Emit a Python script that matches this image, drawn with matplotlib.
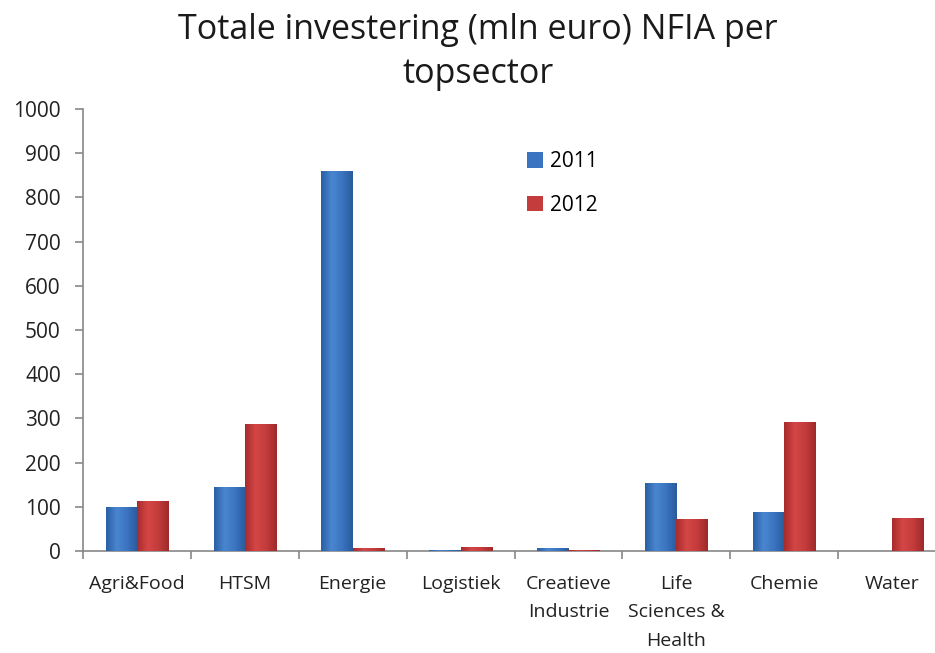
import matplotlib
matplotlib.use("Agg")
import matplotlib.pyplot as plt
import numpy as np
from matplotlib.colors import LinearSegmentedColormap

categories = ["Agri&Food", "HTSM", "Energie", "Logistiek", "Creatieve\nIndustrie",
              "Life\nSciences &\nHealth", "Chemie", "Water"]
values_2011 = [100, 145, 860, 2, 6, 153, 88, 0]
values_2012 = [113, 287, 6, 10, 3, 72, 291, 75]
series_labels = ["2011", "2012"]
yticks = [0, 100, 200, 300, 400, 500, 600, 700, 800, 900, 1000]

plt.rcParams['font.family'] = ['Open Sans', 'DejaVu Sans']

fig = plt.figure(figsize=(9.35, 6.53), dpi=100)
ax = fig.add_axes([0.0888, 0.1562, 0.9230, 0.6769])

x = np.arange(len(categories))
w = 0.29
blue_cmap = LinearSegmentedColormap.from_list("b", ["#2a5fa3", "#4a86d0", "#3b74c0", "#2a5a9c"])
red_cmap = LinearSegmentedColormap.from_list("r", ["#a82c2d", "#d44646", "#c43c3c", "#9e2a2b"])

def draw(vals, offset, base, cmap, label):
    bars = ax.bar(x + offset, vals, w, color=base, edgecolor='none', label=label, zorder=2)
    grad = np.linspace(0, 1, 64).reshape(1, -1)
    for b in bars:
        h = b.get_height()
        if h <= 0:
            continue
        x0 = b.get_x()
        im = ax.imshow(grad, cmap=cmap, aspect='auto', extent=[x0, x0 + b.get_width(), 0, h],
                       zorder=3, interpolation='bicubic')
        im.set_clip_path(b)
    return bars

draw(values_2011, -w / 2, "#3b74c0", blue_cmap, series_labels[0])
draw(values_2012, w / 2, "#c43c3c", red_cmap, series_labels[1])

ax.set_xlim(-0.5, len(categories) - 0.5)
ax.set_ylim(0, 1000)
ax.set_yticks(yticks)
ax.set_xticks(np.arange(len(categories) + 1) - 0.5, minor=False)
ax.set_xticklabels([])
ax.set_xticks(x, minor=True)
ax.set_xticklabels(categories, minor=True)
ax.tick_params(axis='x', which='major', length=6, width=1.2, color='#888888', direction='out')
ax.tick_params(axis='x', which='minor', length=0, pad=17, labelsize=14, colors='#222222')
ax.tick_params(axis='y', length=6, width=1.2, color='#888888', direction='out', labelsize=15,
               labelcolor='#222222', pad=10)
for lab in ax.get_xticklabels(minor=True):
    lab.set_linespacing(1.75)
for s in ['top', 'right']:
    ax.spines[s].set_visible(False)
for s in ['left', 'bottom']:
    ax.spines[s].set_color('#888888')
    ax.spines[s].set_linewidth(1.2)

fig.text(478 / 935, 1 - 52 / 653, "Totale investering (mln euro) NFIA per\ntopsector",
         fontsize=24.5, color='#1a1a1a', linespacing=1.35, ha='center', va='center')

leg = ax.legend(loc='upper left', bbox_to_anchor=(0.493, 0.947), frameon=False, fontsize=15,
                handlelength=0.75, handleheight=0.75, handletextpad=0.35, labelspacing=1.1)

fig.savefig("out.png", dpi=100)
